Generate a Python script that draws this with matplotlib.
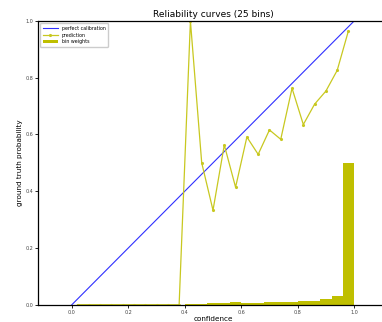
import numpy as np
import matplotlib
matplotlib.use("Agg")
import matplotlib.pyplot as plt

n_bins = 25
bin_centers = [0.02, 0.06, 0.10, 0.14, 0.18, 0.22, 0.26, 0.30, 0.34, 0.38,
               0.42, 0.46, 0.50, 0.54, 0.58, 0.62, 0.66, 0.70, 0.74, 0.78,
               0.82, 0.86, 0.90, 0.94, 0.98]
bin_lefts = [0.00, 0.04, 0.08, 0.12, 0.16, 0.20, 0.24, 0.28, 0.32, 0.36,
             0.40, 0.44, 0.48, 0.52, 0.56, 0.60, 0.64, 0.68, 0.72, 0.76,
             0.80, 0.84, 0.88, 0.92, 0.96]
prediction = [0, 0, 0, 0, 0, 0, 0, 0, 0, 0,
              1.0, 0.50, 0.333, 0.563, 0.414, 0.591, 0.530, 0.616, 0.583, 0.763,
              0.635, 0.707, 0.753, 0.826, 0.966]
bin_weights = [0, 0, 0, 0, 0, 0, 0, 0, 0, 0,
               0.001, 0.002, 0.005, 0.005, 0.010, 0.005, 0.005, 0.009, 0.009, 0.009,
               0.014, 0.014, 0.020, 0.032, 0.500]
perfect = [0.0, 1.0]
ticks = [0.0, 0.2, 0.4, 0.6, 0.8, 1.0]

fig = plt.figure(figsize=(3.82, 3.22), dpi=100)
ax = fig.add_axes([38 / 382, 17.3 / 322, 350 / 382, 283.7 / 322])

ax.plot(perfect, perfect, color="#2f2fff", lw=0.8, label="perfect calibration")
ax.plot(bin_centers, prediction, color="#c8c820", lw=0.9, marker=".",
        markersize=2.5, label="prediction")
ax.bar(bin_lefts, bin_weights, width=1.0 / n_bins, align="edge",
       color="#bfbf00", label="bin weights")

ax.set_xlim(-0.12, 1.12)
ax.set_ylim(0, 1)
ax.set_xticks(ticks)
ax.set_yticks(ticks)
ax.set_xticklabels([f"{t:.1f}" for t in ticks])
ax.set_yticklabels([f"{t:.1f}" for t in ticks])
ax.tick_params(labelsize=3.5, length=2, width=0.6, pad=1.5, colors="black",
               labelcolor="#444444")
for s in ax.spines.values():
    s.set_linewidth(0.9)
    s.set_zorder(3)
ax.set_title("Reliability curves (25 bins)", fontsize=6.5, pad=3)
ax.set_xlabel("confidence", fontsize=5.2, labelpad=1)
ax.set_ylabel("ground truth probability", fontsize=5.2, labelpad=2)
ax.legend(loc="upper left", fontsize=3.4, handlelength=3.2, borderpad=0.5,
          labelspacing=0.4, framealpha=1, edgecolor="#cccccc")

fig.savefig("out.png", dpi=100)
